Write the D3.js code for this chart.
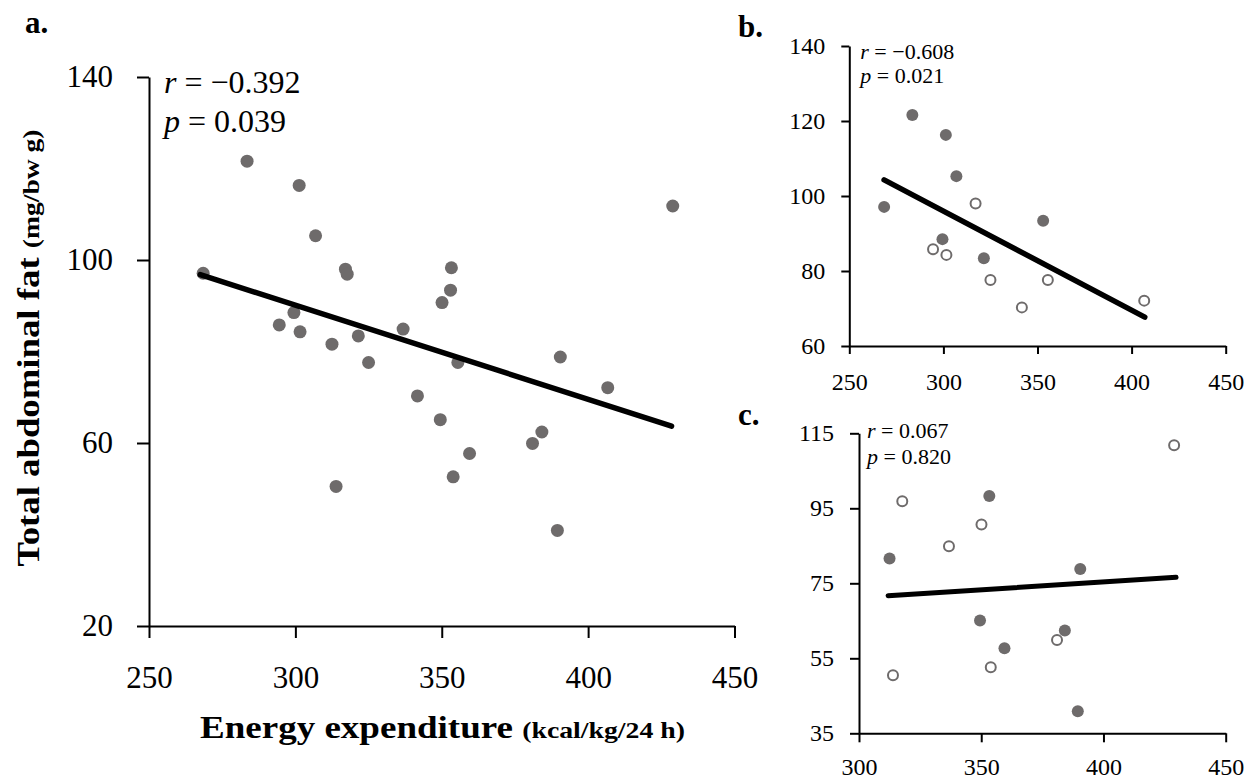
<!DOCTYPE html>
<html>
<head>
<meta charset="utf-8">
<script src="https://cdn.jsdelivr.net/npm/d3@7"></script>
<style>
  html, body { margin: 0; padding: 0; background: #fff; }
  svg text { font-family: "Palatino Linotype", "Book Antiqua", Palatino, "Liberation Serif", serif; fill: #000; }
</style>
</head>
<body>
<div id="chart"></div>
<script>
// values: [energy expenditure, abdominal fat]
const groupBFilled = [[268.5, 97.1], [283.5, 121.6], [301.3, 116.3], [306.9, 105.3], [299.5, 88.5], [321.5, 83.4], [353, 93.4]];
const groupBOpen = [[317.1, 98], [294.5, 85.8], [301.6, 84.3], [325, 77.6], [355.5, 77.6], [341.7, 70.3], [406.7, 72.1]];
const groupCFilled = [[312.5, 81.6], [353.3, 98.3], [390.5, 78.8], [349.5, 65.1], [384.2, 62.4], [359.5, 57.7], [389.5, 40.9]];
const groupCOpen = [[317.7, 96.9], [350.1, 90.7], [336.8, 84.9], [313.9, 50.5], [353.9, 52.6], [381, 59.9], [428.9, 111.8]];

// trend line ends
const trendA = [[267.5, 96.8], [428.5, 63.7]];
const trendB = [[268.5, 104.3], [407, 67.7]];
const trendC = [[311.9, 71.7], [429.7, 76.6]];

const ticksAX = [250, 300, 350, 400, 450];
const ticksAY = [20, 60, 100, 140];
const ticksBX = [250, 300, 350, 400, 450];
const ticksBY = [60, 80, 100, 120, 140];
const ticksCX = [300, 350, 400, 450];
const ticksCY = [35, 55, 75, 95, 115];

const statsA = ['−0.392', '0.039'];
const statsB = ['−0.608', '0.021'];
const statsC = ['0.067', '0.820'];

const dotColor = '#6e6b6b';

const svg = d3.select('#chart').append('svg')
  .attr('width', 1253)
  .attr('height', 780);

const drawPanel = p => {
  const x = d3.scaleLinear().domain(p.xDomain).range(p.xRange);
  const y = d3.scaleLinear().domain(p.yDomain).range(p.yRange);
  const g = svg.append('g');

  // axes
  const yAxis = g.append('g')
    .attr('transform', `translate(${p.xRange[0]},0)`)
    .call(d3.axisLeft(y).tickValues(p.yTicks).tickSize(p.tick).tickSizeOuter(0).tickPadding(p.yPad));
  const xAxis = g.append('g')
    .attr('transform', `translate(0,${p.yRange[0]})`)
    .call(d3.axisBottom(x).tickValues(p.xTicks).tickSize(p.tick).tickSizeOuter(0).tickPadding(p.xPad));
  [xAxis, yAxis].forEach(ax => {
    ax.selectAll('path, line').attr('stroke', '#000').attr('stroke-width', 2);
    ax.selectAll('text')
      .style('font-family', '"Liberation Serif", serif')
      .style('font-size', p.tickFont + 'px')
      .style('font-weight', p.tickWeight)
      .attr('fill', '#000');
  });

  // filled points
  g.selectAll('.dot-f')
    .data(p.filled)
    .enter()
    .append('circle')
    .attr('cx', d => x(d[0]))
    .attr('cy', d => y(d[1]))
    .attr('r', p.r)
    .attr('fill', dotColor);

  // open points
  g.selectAll('.dot-o')
    .data(p.open)
    .enter()
    .append('circle')
    .attr('cx', d => x(d[0]))
    .attr('cy', d => y(d[1]))
    .attr('r', p.r - 1)
    .attr('fill', '#fff')
    .attr('stroke', dotColor)
    .attr('stroke-width', 2);

  // trend line
  g.append('path')
    .datum(p.trend)
    .attr('fill', 'none')
    .attr('stroke', '#000')
    .attr('stroke-width', p.lineW)
    .attr('stroke-linecap', 'round')
    .attr('d', d3.line().x(d => x(d[0])).y(d => y(d[1])));

  // r and p
  const statX = p.xRange[0] + p.statDx;
  [['r', p.stats[0], p.statY[0]], ['p', p.stats[1], p.statY[1]]].forEach(s => {
    const t = g.append('text')
      .attr('x', statX)
      .attr('y', s[2])
      .style('font-size', p.statFont + 'px')
      .style('font-weight', p.tickWeight);
    t.append('tspan').style('font-style', 'italic').text(s[0]);
    t.append('tspan').text(' = ' + s[1]);
  });

  svg.append('text')
    .attr('x', p.label[1])
    .attr('y', p.label[2])
    .style('font-weight', 'bold')
    .style('font-size', '31px')
    .text(p.label[0]);
};

drawPanel({
  xDomain: [250, 450], xRange: [149, 734.5],
  yDomain: [20, 140], yRange: [626, 77],
  xTicks: ticksAX, yTicks: ticksAY,
  tick: 12, yPad: 24, xPad: 28, tickFont: 31, tickWeight: 'normal',
  filled: groupBFilled.concat(groupBOpen, groupCFilled, groupCOpen), open: [],
  r: 6.5, trend: trendA, lineW: 5.5,
  stats: statsA, statDx: 15, statY: [93, 132], statFont: 32,
  label: ['a.', 25, 33]
});

drawPanel({
  xDomain: [250, 450], xRange: [849.3, 1225.7],
  yDomain: [60, 140], yRange: [346, 46],
  xTicks: ticksBX, yTicks: ticksBY,
  tick: 8, yPad: 16, xPad: 19, tickFont: 24, tickWeight: 'normal',
  filled: groupBFilled, open: groupBOpen,
  r: 6, trend: trendB, lineW: 5.5,
  stats: statsB, statDx: 11, statY: [59, 83], statFont: 22,
  label: ['b.', 738, 37]
});

drawPanel({
  xDomain: [300, 450], xRange: [859, 1225.7],
  yDomain: [35, 115], yRange: [733.3, 433.3],
  xTicks: ticksCX, yTicks: ticksCY,
  tick: 9, yPad: 16, xPad: 16, tickFont: 24, tickWeight: 'normal',
  filled: groupCFilled, open: groupCOpen,
  r: 6, trend: trendC, lineW: 5,
  stats: statsC, statDx: 8, statY: [438, 464], statFont: 22,
  label: ['c.', 738, 425]
});

// axis titles of panel a (stretched to the width of the original lettering)
const yTitle = svg.append('text')
  .attr('transform', 'translate(39,348) rotate(-90)')
  .attr('text-anchor', 'middle')
  .attr('textLength', 437)
  .attr('lengthAdjust', 'spacingAndGlyphs')
  .style('font-weight', 'bold');
yTitle.append('tspan').style('font-size', '32px').text('Total abdominal fat ');
yTitle.append('tspan').style('font-size', '24px').text('(mg/bw g)');

const xTitle = svg.append('text')
  .attr('x', 442.5)
  .attr('y', 738)
  .attr('text-anchor', 'middle')
  .attr('textLength', 485)
  .attr('lengthAdjust', 'spacingAndGlyphs')
  .style('font-weight', 'bold');
xTitle.append('tspan').style('font-size', '32px').text('Energy expenditure ');
xTitle.append('tspan').style('font-size', '24px').text('(kcal/kg/24 h)');
</script>
</body>
</html>
